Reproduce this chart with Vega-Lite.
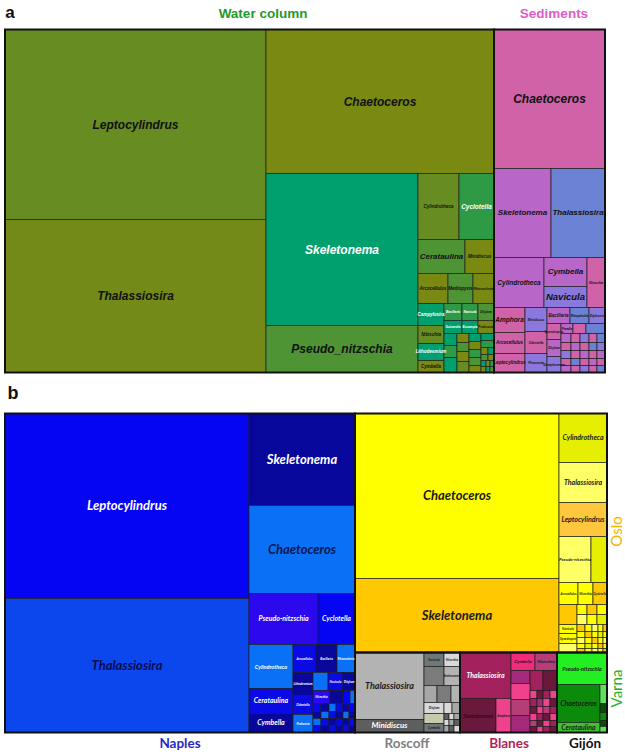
{
"$schema": "https://vega.github.io/schema/vega-lite/v6.json",
"background": "white",
"padding": {"left": 4, "top": 3.5, "right": 0, "bottom": 0},
"spacing": 41,
"bounds": "flush",
"config": {"view": {"stroke": null}},
"resolve": {"scale": {"x": "independent", "y": "independent", "fill": "independent", "color": "independent", "size": "independent"}},
"datasets": {
"cellsA": [
{"x0":0,"x1":261,"y0":0,"y1":190,"pal":"a_lep","name":"Leptocylindrus","lvl":2},
{"x0":0,"x1":261,"y0":190,"y1":343,"pal":"a_tha","name":"Thalassiosira","lvl":2},
{"x0":261,"x1":489,"y0":0,"y1":144,"pal":"a_cha","name":"Chaetoceros","lvl":2},
{"x0":261,"x1":413,"y0":144,"y1":296,"pal":"a_ske","name":"Skeletonema","lvl":2},
{"x0":261,"x1":413,"y0":296,"y1":343,"pal":"a_pse","name":"Pseudo_nitzschia","lvl":2},
{"x0":413,"x1":454,"y0":144,"y1":210,"pal":"a_lep","name":"Cylindrotheca","lvl":6},
{"x0":454,"x1":489,"y0":144,"y1":210,"pal":"a_cyc","name":"Cyclotella","lvl":5},
{"x0":413,"x1":460,"y0":210,"y1":244,"pal":"a_pse","name":"Cerataulina","lvl":4},
{"x0":460,"x1":489,"y0":210,"y1":244,"pal":"a_cha","name":"Minidiscus","lvl":6},
{"x0":413,"x1":443,"y0":244,"y1":274,"pal":"a_cha","name":"Arcocellulus","lvl":6},
{"x0":443,"x1":468,"y0":244,"y1":274,"pal":"a_pse","name":"Mediopyxis","lvl":6},
{"x0":468,"x1":489,"y0":244,"y1":274,"pal":"a_cha","name":"Rhizosolenia","lvl":7},
{"x0":413,"x1":439,"y0":274,"y1":296,"pal":"a_ske","name":"Campylosira","lvl":6},
{"x0":413,"x1":439,"y0":296,"y1":314,"pal":"a_lep","name":"Nitzschia","lvl":6},
{"x0":413,"x1":439,"y0":314,"y1":331,"pal":"a_ske","name":"Lithodesmium","lvl":6},
{"x0":413,"x1":439,"y0":331,"y1":343,"pal":"a_cha","name":"Cymbella","lvl":6},
{"x0":439,"x1":457,"y0":274,"y1":291,"pal":"a_cyc","name":"Bacillaria","lvl":7},
{"x0":457,"x1":473,"y0":274,"y1":291,"pal":"a_cyc","name":"Navicula","lvl":7},
{"x0":473,"x1":489,"y0":274,"y1":291,"pal":"a_pse","name":"Ditylum","lvl":7},
{"x0":439,"x1":457,"y0":291,"y1":304,"pal":"a_ske","name":"Guinardia","lvl":7},
{"x0":457,"x1":473,"y0":291,"y1":304,"pal":"a_ske","name":"Eucampia","lvl":7},
{"x0":473,"x1":489,"y0":291,"y1":304,"pal":"a_cha","name":"Proboscia","lvl":7},
{"x0":439,"x1":452,"y0":304,"y1":316,"pal":"a_ske","name":""},
{"x0":439,"x1":452,"y0":316,"y1":328,"pal":"a_cyc","name":""},
{"x0":439,"x1":452,"y0":328,"y1":343,"pal":"a_ske","name":""},
{"x0":452,"x1":464,"y0":304,"y1":313,"pal":"a_cha","name":""},
{"x0":452,"x1":464,"y0":313,"y1":322,"pal":"a_pse","name":""},
{"x0":452,"x1":464,"y0":322,"y1":332,"pal":"a_cha","name":""},
{"x0":452,"x1":464,"y0":332,"y1":343,"pal":"a_lep","name":""},
{"x0":464,"x1":476,"y0":304,"y1":312,"pal":"a_ske","name":""},
{"x0":464,"x1":476,"y0":312,"y1":320,"pal":"a_cha","name":""},
{"x0":464,"x1":476,"y0":320,"y1":328,"pal":"a_cyc","name":""},
{"x0":464,"x1":476,"y0":328,"y1":336,"pal":"a_pse","name":""},
{"x0":464,"x1":476,"y0":336,"y1":343,"pal":"a_cha","name":""},
{"x0":476,"x1":489,"y0":304,"y1":311,"pal":"a_ske","name":""},
{"x0":476,"x1":489,"y0":311,"y1":318,"pal":"a_cyc","name":""},
{"x0":476,"x1":483,"y0":318,"y1":325,"pal":"a_cha","name":""},
{"x0":483,"x1":489,"y0":318,"y1":325,"pal":"a_ske","name":""},
{"x0":476,"x1":483,"y0":325,"y1":331,"pal":"a_pse","name":""},
{"x0":483,"x1":489,"y0":325,"y1":331,"pal":"a_cha","name":""},
{"x0":476,"x1":481,"y0":331,"y1":337,"pal":"a_ske","name":""},
{"x0":481,"x1":485,"y0":331,"y1":337,"pal":"a_cha","name":""},
{"x0":485,"x1":489,"y0":331,"y1":337,"pal":"a_cyc","name":""},
{"x0":476,"x1":481,"y0":337,"y1":343,"pal":"a_cha","name":""},
{"x0":481,"x1":485,"y0":337,"y1":343,"pal":"a_ske","name":""},
{"x0":485,"x1":489,"y0":337,"y1":343,"pal":"a_pse","name":""},
{"x0":489,"x1":600,"y0":0,"y1":139,"pal":"s_cha","name":"Chaetoceros","lvl":2},
{"x0":489,"x1":546,"y0":139,"y1":228,"pal":"s_pur","name":"Skeletonema","lvl":4},
{"x0":546,"x1":600,"y0":139,"y1":228,"pal":"s_blu","name":"Thalassiosira","lvl":4},
{"x0":489,"x1":539,"y0":228,"y1":278,"pal":"s_pur","name":"Cylindrotheca","lvl":5},
{"x0":539,"x1":582,"y0":228,"y1":257,"pal":"s_pur","name":"Cymbella","lvl":4},
{"x0":539,"x1":582,"y0":257,"y1":278,"pal":"s_vio","name":"Navicula","lvl":3},
{"x0":582,"x1":600,"y0":228,"y1":278,"pal":"s_cha","name":"Nitzschia","lvl":7},
{"x0":489,"x1":520,"y0":278,"y1":303,"pal":"s_cha","name":"Amphora","lvl":5},
{"x0":489,"x1":520,"y0":303,"y1":324,"pal":"s_cha","name":"Arcocellulus","lvl":6},
{"x0":489,"x1":520,"y0":324,"y1":343,"pal":"s_cha","name":"Leptocylindrus","lvl":6},
{"x0":520,"x1":542,"y0":278,"y1":302,"pal":"s_vio","name":"Minidiscus","lvl":7},
{"x0":520,"x1":542,"y0":302,"y1":324,"pal":"s_cha","name":"Odontella","lvl":7},
{"x0":520,"x1":542,"y0":324,"y1":343,"pal":"s_vio","name":"Pleurosira","lvl":7},
{"x0":542,"x1":565,"y0":278,"y1":294,"pal":"s_pur","name":"Bacillaria","lvl":6},
{"x0":565,"x1":584,"y0":278,"y1":294,"pal":"s_blu","name":"Rhopalodia","lvl":7},
{"x0":584,"x1":600,"y0":278,"y1":294,"pal":"s_vio","name":"Diploneis","lvl":7},
{"x0":542,"x1":556,"y0":294,"y1":310,"pal":"s_cha","name":"Synedropsis","lvl":7},
{"x0":542,"x1":556,"y0":310,"y1":327,"pal":"s_pur","name":"Ditylum","lvl":7},
{"x0":542,"x1":556,"y0":327,"y1":343,"pal":"s_vio","name":"Gomphonema","lvl":7},
{"x0":556,"x1":568,"y0":294,"y1":304,"pal":"s_pur","name":"Paralia","lvl":7},
{"x0":568,"x1":581,"y0":294,"y1":304,"pal":"s_cha","name":""},
{"x0":581,"x1":600,"y0":294,"y1":304,"pal":"s_blu","name":""},
{"x0":556,"x1":566,"y0":304,"y1":313,"pal":"s_pur","name":""},
{"x0":566,"x1":575,"y0":304,"y1":313,"pal":"s_cha","name":""},
{"x0":575,"x1":584,"y0":304,"y1":313,"pal":"s_vio","name":""},
{"x0":584,"x1":592,"y0":304,"y1":313,"pal":"s_cha","name":""},
{"x0":592,"x1":600,"y0":304,"y1":313,"pal":"s_blu","name":""},
{"x0":556,"x1":566,"y0":313,"y1":321,"pal":"s_cha","name":""},
{"x0":566,"x1":575,"y0":313,"y1":321,"pal":"s_pur","name":""},
{"x0":575,"x1":584,"y0":313,"y1":321,"pal":"s_cha","name":""},
{"x0":584,"x1":592,"y0":313,"y1":321,"pal":"s_blu","name":""},
{"x0":592,"x1":600,"y0":313,"y1":321,"pal":"s_vio","name":""},
{"x0":556,"x1":566,"y0":321,"y1":329,"pal":"s_vio","name":""},
{"x0":566,"x1":575,"y0":321,"y1":329,"pal":"s_cha","name":""},
{"x0":575,"x1":584,"y0":321,"y1":329,"pal":"s_pur","name":""},
{"x0":584,"x1":592,"y0":321,"y1":329,"pal":"s_cha","name":""},
{"x0":592,"x1":600,"y0":321,"y1":329,"pal":"s_pur","name":""},
{"x0":556,"x1":566,"y0":329,"y1":336,"pal":"s_cha","name":""},
{"x0":566,"x1":575,"y0":329,"y1":336,"pal":"s_blu","name":""},
{"x0":575,"x1":584,"y0":329,"y1":336,"pal":"s_cha","name":""},
{"x0":584,"x1":592,"y0":329,"y1":336,"pal":"s_pur","name":""},
{"x0":592,"x1":600,"y0":329,"y1":336,"pal":"s_cha","name":""},
{"x0":556,"x1":566,"y0":336,"y1":343,"pal":"s_pur","name":""},
{"x0":566,"x1":575,"y0":336,"y1":343,"pal":"s_cha","name":""},
{"x0":575,"x1":584,"y0":336,"y1":343,"pal":"s_vio","name":""},
{"x0":584,"x1":592,"y0":336,"y1":343,"pal":"s_cha","name":""},
{"x0":592,"x1":600,"y0":336,"y1":343,"pal":"s_blu","name":""}
],
"groupsA": [
{"x0":0,"x1":489,"y0":0,"y1":343,"group":"Water column"},
{"x0":489,"x1":600,"y0":0,"y1":343,"group":"Sediments"}
],
"notesA": [
{"name":"Water column","x":258,"y":-16},
{"name":"Sediments","x":549,"y":-16}
],
"panelA": [{"name":"a","x":5,"y":-17}],
"cellsB": [
{"x0":0,"x1":244,"y0":0,"y1":185,"pal":"n_lep","name":"Leptocylindrus","lvl":1},
{"x0":0,"x1":244,"y0":185,"y1":319,"pal":"n_tha","name":"Thalassiosira","lvl":1},
{"x0":244,"x1":350,"y0":0,"y1":92,"pal":"n_ske","name":"Skeletonema","lvl":1},
{"x0":244,"x1":350,"y0":92,"y1":180,"pal":"n_cha","name":"Chaetoceros","lvl":1},
{"x0":244,"x1":313,"y0":180,"y1":231,"pal":"n_pse","name":"Pseudo-nitzschia","lvl":4},
{"x0":313,"x1":350,"y0":180,"y1":231,"pal":"n_lep","name":"Cyclotella","lvl":4},
{"x0":244,"x1":288,"y0":231,"y1":275,"pal":"n_chw","name":"Cylindrotheca","lvl":5},
{"x0":244,"x1":288,"y0":275,"y1":300,"pal":"n_cer","name":"Cerataulina","lvl":4},
{"x0":244,"x1":288,"y0":300,"y1":319,"pal":"n_ske","name":"Cymbella","lvl":4},
{"x0":288,"x1":311,"y0":231,"y1":259,"pal":"n_cer","name":"Arcocellulus","lvl":7},
{"x0":311,"x1":332,"y0":231,"y1":259,"pal":"n_ske","name":"Bacillaria","lvl":7},
{"x0":332,"x1":350,"y0":231,"y1":259,"pal":"n_chw","name":"Rhizosolenia","lvl":7},
{"x0":288,"x1":308,"y0":259,"y1":282,"pal":"n_ske","name":"Lithodesmium","lvl":7},
{"x0":308,"x1":323,"y0":259,"y1":277,"pal":"n_cha","name":""},
{"x0":323,"x1":338,"y0":259,"y1":277,"pal":"n_cer","name":"Navicula","lvl":7},
{"x0":338,"x1":350,"y0":259,"y1":277,"pal":"n_ske","name":"Ditylum","lvl":7},
{"x0":288,"x1":308,"y0":282,"y1":301,"pal":"n_cer","name":"Odontella","lvl":7},
{"x0":288,"x1":308,"y0":301,"y1":319,"pal":"n_chw","name":"Proboscia","lvl":7},
{"x0":308,"x1":325,"y0":277,"y1":290,"pal":"n_pse","name":"Nitzschia","lvl":7},
{"x0":325,"x1":338,"y0":277,"y1":290,"pal":"n_ske","name":""},
{"x0":338,"x1":345,"y0":277,"y1":290,"pal":"n_lep","name":""},
{"x0":345,"x1":350,"y0":277,"y1":290,"pal":"n_cha","name":""},
{"x0":308,"x1":316,"y0":290,"y1":298,"pal":"n_cer","name":""},
{"x0":316,"x1":324,"y0":290,"y1":298,"pal":"n_ske","name":""},
{"x0":324,"x1":331,"y0":290,"y1":298,"pal":"n_cha","name":""},
{"x0":331,"x1":338,"y0":290,"y1":298,"pal":"n_cer","name":""},
{"x0":338,"x1":344,"y0":290,"y1":298,"pal":"n_ske","name":""},
{"x0":344,"x1":350,"y0":290,"y1":298,"pal":"n_lep","name":""},
{"x0":308,"x1":316,"y0":298,"y1":305,"pal":"n_ske","name":""},
{"x0":316,"x1":324,"y0":298,"y1":305,"pal":"n_cha","name":""},
{"x0":324,"x1":331,"y0":298,"y1":305,"pal":"n_cer","name":""},
{"x0":331,"x1":338,"y0":298,"y1":305,"pal":"n_ske","name":""},
{"x0":338,"x1":344,"y0":298,"y1":305,"pal":"n_cha","name":""},
{"x0":344,"x1":350,"y0":298,"y1":305,"pal":"n_ske","name":""},
{"x0":308,"x1":316,"y0":305,"y1":312,"pal":"n_cha","name":""},
{"x0":316,"x1":324,"y0":305,"y1":312,"pal":"n_cer","name":""},
{"x0":324,"x1":331,"y0":305,"y1":312,"pal":"n_ske","name":""},
{"x0":331,"x1":338,"y0":305,"y1":312,"pal":"n_lep","name":""},
{"x0":338,"x1":344,"y0":305,"y1":312,"pal":"n_ske","name":""},
{"x0":344,"x1":350,"y0":305,"y1":312,"pal":"n_cer","name":""},
{"x0":308,"x1":316,"y0":312,"y1":319,"pal":"n_cer","name":""},
{"x0":316,"x1":324,"y0":312,"y1":319,"pal":"n_ske","name":""},
{"x0":324,"x1":331,"y0":312,"y1":319,"pal":"n_cer","name":""},
{"x0":331,"x1":338,"y0":312,"y1":319,"pal":"n_ske","name":""},
{"x0":338,"x1":344,"y0":312,"y1":319,"pal":"n_cer","name":""},
{"x0":344,"x1":350,"y0":312,"y1":319,"pal":"n_ske","name":""},
{"x0":350,"x1":554,"y0":0,"y1":165,"pal":"o_cha","name":"Chaetoceros","lvl":1},
{"x0":350,"x1":554,"y0":165,"y1":239,"pal":"o_ske","name":"Skeletonema","lvl":1},
{"x0":554,"x1":602,"y0":0,"y1":49,"pal":"o_cyl","name":"Cylindrotheca","lvl":4},
{"x0":554,"x1":602,"y0":49,"y1":89,"pal":"o_lt","name":"Thalassiosira","lvl":4},
{"x0":554,"x1":602,"y0":89,"y1":123,"pal":"o_lep","name":"Leptocylindrus","lvl":4},
{"x0":554,"x1":586,"y0":123,"y1":169,"pal":"o_lt","name":"Pseudo-nitzschia","lvl":6},
{"x0":586,"x1":602,"y0":123,"y1":169,"pal":"o_cyl","name":""},
{"x0":554,"x1":573,"y0":169,"y1":191,"pal":"o_cha","name":"Arcocellulus","lvl":7},
{"x0":573,"x1":588,"y0":169,"y1":191,"pal":"o_cha","name":"Nitzschia","lvl":7},
{"x0":588,"x1":602,"y0":169,"y1":191,"pal":"o_ske","name":"Cyclotella","lvl":7},
{"x0":554,"x1":572,"y0":191,"y1":211,"pal":"o_ske","name":""},
{"x0":572,"x1":582,"y0":191,"y1":201,"pal":"o_cha","name":""},
{"x0":572,"x1":582,"y0":201,"y1":211,"pal":"o_lt","name":""},
{"x0":582,"x1":592,"y0":191,"y1":201,"pal":"o_ske","name":""},
{"x0":582,"x1":592,"y0":201,"y1":211,"pal":"o_cha","name":""},
{"x0":592,"x1":602,"y0":191,"y1":201,"pal":"o_cha","name":""},
{"x0":592,"x1":602,"y0":201,"y1":211,"pal":"o_cyl","name":""},
{"x0":554,"x1":572,"y0":211,"y1":220,"pal":"o_cha","name":"Navicula","lvl":7},
{"x0":554,"x1":572,"y0":220,"y1":230,"pal":"o_cha","name":"Synedropsis","lvl":7},
{"x0":554,"x1":572,"y0":230,"y1":239,"pal":"o_lt","name":""},
{"x0":572,"x1":580,"y0":211,"y1":218,"pal":"o_ske","name":""},
{"x0":580,"x1":587,"y0":211,"y1":218,"pal":"o_cha","name":""},
{"x0":587,"x1":593,"y0":211,"y1":218,"pal":"o_lt","name":""},
{"x0":593,"x1":598,"y0":211,"y1":218,"pal":"o_cha","name":""},
{"x0":598,"x1":602,"y0":211,"y1":218,"pal":"o_ske","name":""},
{"x0":572,"x1":580,"y0":218,"y1":224,"pal":"o_cha","name":""},
{"x0":580,"x1":587,"y0":218,"y1":224,"pal":"o_ske","name":""},
{"x0":587,"x1":593,"y0":218,"y1":224,"pal":"o_cha","name":""},
{"x0":593,"x1":598,"y0":218,"y1":224,"pal":"o_cyl","name":""},
{"x0":598,"x1":602,"y0":218,"y1":224,"pal":"o_cha","name":""},
{"x0":572,"x1":580,"y0":224,"y1":230,"pal":"o_lt","name":""},
{"x0":580,"x1":587,"y0":224,"y1":230,"pal":"o_cha","name":""},
{"x0":587,"x1":593,"y0":224,"y1":230,"pal":"o_ske","name":""},
{"x0":593,"x1":598,"y0":224,"y1":230,"pal":"o_cha","name":""},
{"x0":598,"x1":602,"y0":224,"y1":230,"pal":"o_lt","name":""},
{"x0":572,"x1":580,"y0":230,"y1":235,"pal":"o_cha","name":""},
{"x0":580,"x1":587,"y0":230,"y1":235,"pal":"o_cyl","name":""},
{"x0":587,"x1":593,"y0":230,"y1":235,"pal":"o_cha","name":""},
{"x0":593,"x1":598,"y0":230,"y1":235,"pal":"o_ske","name":""},
{"x0":598,"x1":602,"y0":230,"y1":235,"pal":"o_cha","name":""},
{"x0":572,"x1":580,"y0":235,"y1":239,"pal":"o_ske","name":""},
{"x0":580,"x1":587,"y0":235,"y1":239,"pal":"o_cha","name":""},
{"x0":587,"x1":593,"y0":235,"y1":239,"pal":"o_lt","name":""},
{"x0":593,"x1":598,"y0":235,"y1":239,"pal":"o_cha","name":""},
{"x0":598,"x1":602,"y0":235,"y1":239,"pal":"o_ske","name":""},
{"x0":350,"x1":419,"y0":239,"y1":306,"pal":"r_lt","name":"Thalassiosira","lvl":2},
{"x0":350,"x1":419,"y0":306,"y1":319,"pal":"r_dk","name":"Minidiscus","lvl":3},
{"x0":419,"x1":439,"y0":239,"y1":253,"pal":"r_md","name":"Navicula","lvl":7},
{"x0":439,"x1":455,"y0":239,"y1":253,"pal":"r_xl","name":"Nitzschia","lvl":7},
{"x0":419,"x1":439,"y0":253,"y1":272,"pal":"r_m2","name":""},
{"x0":439,"x1":455,"y0":253,"y1":272,"pal":"r_lt","name":"Skeletonema","lvl":7},
{"x0":419,"x1":432,"y0":272,"y1":289,"pal":"r_lt2","name":""},
{"x0":432,"x1":446,"y0":272,"y1":289,"pal":"r_m2","name":""},
{"x0":446,"x1":455,"y0":272,"y1":289,"pal":"r_lt","name":""},
{"x0":419,"x1":439,"y0":289,"y1":300,"pal":"r_xl","name":"Ditylum","lvl":7},
{"x0":439,"x1":447,"y0":289,"y1":300,"pal":"r_xl","name":""},
{"x0":447,"x1":455,"y0":289,"y1":300,"pal":"r_lt2","name":""},
{"x0":419,"x1":439,"y0":300,"y1":310,"pal":"r_bg","name":""},
{"x0":419,"x1":439,"y0":310,"y1":319,"pal":"r_md","name":"Cymbella","lvl":7},
{"x0":439,"x1":444,"y0":300,"y1":306,"pal":"r_dk","name":""},
{"x0":444,"x1":449,"y0":300,"y1":306,"pal":"r_xl","name":""},
{"x0":449,"x1":455,"y0":300,"y1":306,"pal":"r_lt2","name":""},
{"x0":439,"x1":444,"y0":306,"y1":312,"pal":"r_xl","name":""},
{"x0":444,"x1":449,"y0":306,"y1":312,"pal":"r_lt2","name":""},
{"x0":449,"x1":455,"y0":306,"y1":312,"pal":"r_dk","name":""},
{"x0":439,"x1":444,"y0":312,"y1":319,"pal":"r_lt2","name":""},
{"x0":444,"x1":449,"y0":312,"y1":319,"pal":"r_dk","name":""},
{"x0":449,"x1":455,"y0":312,"y1":319,"pal":"r_xl","name":""},
{"x0":455,"x1":506,"y0":239,"y1":285,"pal":"b_tha","name":"Thalassiosira","lvl":4},
{"x0":455,"x1":491,"y0":285,"y1":319,"pal":"b_dk","name":"Skeletonema","lvl":5},
{"x0":491,"x1":506,"y0":285,"y1":319,"pal":"b_pk","name":"Amphora","lvl":7},
{"x0":506,"x1":530,"y0":239,"y1":257,"pal":"b_pk2","name":"Cymbella","lvl":6},
{"x0":530,"x1":552,"y0":239,"y1":257,"pal":"b_md","name":"Nitzschia","lvl":6},
{"x0":506,"x1":525,"y0":257,"y1":270,"pal":"b_pu","name":""},
{"x0":525,"x1":538,"y0":257,"y1":277,"pal":"b_tha","name":""},
{"x0":538,"x1":552,"y0":257,"y1":277,"pal":"b_dk","name":""},
{"x0":506,"x1":525,"y0":270,"y1":286,"pal":"b_pk","name":""},
{"x0":506,"x1":525,"y0":286,"y1":302,"pal":"b_md","name":""},
{"x0":506,"x1":525,"y0":302,"y1":319,"pal":"b_pu","name":""},
{"x0":525,"x1":532,"y0":277,"y1":285,"pal":"b_pk","name":""},
{"x0":532,"x1":538,"y0":277,"y1":285,"pal":"b_dk","name":""},
{"x0":538,"x1":545,"y0":277,"y1":285,"pal":"b_tha","name":""},
{"x0":545,"x1":552,"y0":277,"y1":285,"pal":"b_pk","name":""},
{"x0":525,"x1":532,"y0":285,"y1":293,"pal":"b_tha","name":""},
{"x0":532,"x1":538,"y0":285,"y1":293,"pal":"b_pu","name":""},
{"x0":538,"x1":545,"y0":285,"y1":293,"pal":"b_pk","name":""},
{"x0":545,"x1":552,"y0":285,"y1":293,"pal":"b_dk","name":""},
{"x0":525,"x1":532,"y0":293,"y1":300,"pal":"b_dk","name":""},
{"x0":532,"x1":538,"y0":293,"y1":300,"pal":"b_pk","name":""},
{"x0":538,"x1":545,"y0":293,"y1":300,"pal":"b_md","name":""},
{"x0":545,"x1":552,"y0":293,"y1":300,"pal":"b_tha","name":""},
{"x0":525,"x1":532,"y0":300,"y1":307,"pal":"b_pk","name":""},
{"x0":532,"x1":538,"y0":300,"y1":307,"pal":"b_tha","name":""},
{"x0":538,"x1":545,"y0":300,"y1":307,"pal":"b_dk","name":""},
{"x0":545,"x1":552,"y0":300,"y1":307,"pal":"b_pk","name":""},
{"x0":525,"x1":532,"y0":307,"y1":313,"pal":"b_md","name":""},
{"x0":532,"x1":538,"y0":307,"y1":313,"pal":"b_dk","name":""},
{"x0":538,"x1":545,"y0":307,"y1":313,"pal":"b_pk","name":""},
{"x0":545,"x1":552,"y0":307,"y1":313,"pal":"b_tha","name":""},
{"x0":525,"x1":532,"y0":313,"y1":319,"pal":"b_dk","name":""},
{"x0":532,"x1":538,"y0":313,"y1":319,"pal":"b_pk","name":""},
{"x0":538,"x1":545,"y0":313,"y1":319,"pal":"b_tha","name":""},
{"x0":545,"x1":552,"y0":313,"y1":319,"pal":"b_dk","name":""},
{"x0":552,"x1":602,"y0":239,"y1":271,"pal":"v_pse","name":"Pseudo-nitzschia","lvl":5},
{"x0":552,"x1":595,"y0":271,"y1":309,"pal":"v_cha","name":"Chaetoceros","lvl":4},
{"x0":552,"x1":595,"y0":309,"y1":319,"pal":"v_cer","name":"Cerataulina","lvl":4},
{"x0":595,"x1":602,"y0":271,"y1":290,"pal":"v_lt","name":""},
{"x0":595,"x1":602,"y0":290,"y1":299,"pal":"v_dk","name":""},
{"x0":595,"x1":602,"y0":299,"y1":307,"pal":"v_cha","name":""},
{"x0":595,"x1":602,"y0":307,"y1":313,"pal":"v_dk","name":""},
{"x0":595,"x1":602,"y0":313,"y1":319,"pal":"v_lt","name":""}
],
"groupsB": [
{"x0":0,"x1":350,"y0":0,"y1":319,"group":"Naples"},
{"x0":350,"x1":602,"y0":0,"y1":239,"group":"Oslo"},
{"x0":350,"x1":455,"y0":239,"y1":319,"group":"Roscoff"},
{"x0":455,"x1":552,"y0":239,"y1":319,"group":"Blanes"},
{"x0":552,"x1":602,"y0":239,"y1":319,"group":"Varna"}
],
"sitesB": [
{"name":"Naples","x":175,"y":330},
{"name":"Roscoff","x":402,"y":330},
{"name":"Blanes","x":504,"y":330},
{"name":"Gijón","x":580,"y":330}
],
"sidesB": [
{"name":"Oslo","x":612,"y":118},
{"name":"Varna","x":612,"y":275}
],
"panelB": [{"name":"b","x":8,"y":-20}]
},
"vconcat": [
{
"width": 600, "height": 343,
"resolve": {"scale": {"color": "independent", "size": "independent"}},
"layer": [
{"data": {"name": "cellsA"},
 "mark": {"type": "rect", "stroke": "#1c1c1c", "strokeWidth": 0.7},
 "encoding": {
  "x": {"field": "x0", "type": "quantitative", "scale": {"domain": [0, 600], "nice": false, "zero": false}, "axis": null},
  "x2": {"field": "x1"},
  "y": {"field": "y0", "type": "quantitative", "scale": {"domain": [0, 343], "nice": false, "zero": false, "reverse": true}, "axis": null},
  "y2": {"field": "y1"},
  "fill": {"field": "pal", "type": "nominal", "legend": null, "scale": {
    "domain": ["a_lep","a_tha","a_cha","a_ske","a_pse","a_cyc","s_cha","s_pur","s_blu","s_vio"],
    "range": ["#678c22","#738a18","#798912","#00a06e","#4f9434","#2e9a46","#d062a7","#b867c9","#6b82d4","#8a78dc"]}}
 }},
{"data": {"name": "groupsA"},
 "mark": {"type": "rect", "filled": false, "stroke": "#111111", "strokeWidth": 2},
 "encoding": {
  "x": {"field": "x0", "type": "quantitative"}, "x2": {"field": "x1"},
  "y": {"field": "y0", "type": "quantitative"}, "y2": {"field": "y1"}
 }},
{"data": {"name": "cellsA"},
 "transform": [{"filter": "datum.name != ''"},
   {"calculate": "(datum.x0 + datum.x1) / 2", "as": "cx"},
   {"calculate": "(datum.y0 + datum.y1) / 2", "as": "cy"}],
 "mark": {"type": "text", "font": "Liberation Sans", "fontStyle": "italic", "fontWeight": "bold", "align": "center", "baseline": "middle"},
 "encoding": {
  "x": {"field": "cx", "type": "quantitative"},
  "y": {"field": "cy", "type": "quantitative"},
  "text": {"field": "name"},
  "color": {"field": "pal", "type": "nominal", "legend": null, "scale": {
    "domain": ["a_lep","a_tha","a_cha","a_ske","a_pse","a_cyc","s_cha","s_pur","s_blu","s_vio"],
    "range": ["#111111","#111111","#111111","#ffffff","#111111","#ffffff","#111111","#111111","#111111","#111111"]}},
  "size": {"field": "lvl", "type": "ordinal", "legend": null, "scale": {"type": "ordinal", "domain": [1,2,3,4,5,6,7], "range": [14,12,9.5,8,6.5,4.5,3.2]}}
 }},
{"data": {"name": "notesA"},
 "mark": {"type": "text", "font": "Liberation Sans", "fontSize": 13.5, "fontWeight": "bold", "align": "center", "baseline": "middle"},
 "encoding": {
  "x": {"field": "x", "type": "quantitative"},
  "y": {"field": "y", "type": "quantitative"},
  "text": {"field": "name"},
  "color": {"field": "name", "type": "nominal", "legend": null, "scale": {"domain": ["Water column","Sediments"], "range": ["#1f9a2a","#e05ccb"]}}
 }},
{"data": {"name": "panelA"},
 "mark": {"type": "text", "font": "Liberation Sans", "fontSize": 17, "fontWeight": "bold", "align": "center", "baseline": "middle", "color": "#111111"},
 "encoding": {
  "x": {"field": "x", "type": "quantitative"},
  "y": {"field": "y", "type": "quantitative"},
  "text": {"field": "name"}
 }}
]
},
{
"width": 602, "height": 319,
"resolve": {"scale": {"color": "independent", "size": "independent"}},
"layer": [
{"data": {"name": "cellsB"},
 "mark": {"type": "rect", "stroke": "#1c1c1c", "strokeWidth": 0.7},
 "encoding": {
  "x": {"field": "x0", "type": "quantitative", "scale": {"domain": [0, 602], "nice": false, "zero": false}, "axis": null},
  "x2": {"field": "x1"},
  "y": {"field": "y0", "type": "quantitative", "scale": {"domain": [0, 319], "nice": false, "zero": false, "reverse": true}, "axis": null},
  "y2": {"field": "y1"},
  "fill": {"field": "pal", "type": "nominal", "legend": null, "scale": {
    "domain": ["n_lep","n_tha","n_ske","n_cha","n_chw","n_pse","n_cer","o_cha","o_ske","o_cyl","o_lt","o_lep","r_lt","r_dk","r_md","r_m2","r_xl","r_bg","r_lt2","b_tha","b_dk","b_pk","b_pk2","b_md","b_pu","v_pse","v_cha","v_cer","v_lt","v_dk"],
    "range": ["#0505f4","#0c47ee","#07079c","#0a70f6","#0a70f6","#2c08ee","#0a0ae4","#ffff00","#ffc800","#e6ef00","#ffff66","#ffc83c","#b3b3b3","#5e5e5e","#6f7878","#7b7b7b","#d9d9d9","#c9c9ae","#a7a7a7","#a2205b","#6a183c","#f0418d","#f02b7b","#b53d78","#a3297a","#22ee22","#0b8a0b","#40c030","#5ae35a","#0a4e0a"]}}
 }},
{"data": {"name": "groupsB"},
 "mark": {"type": "rect", "filled": false, "stroke": "#111111", "strokeWidth": 2},
 "encoding": {
  "x": {"field": "x0", "type": "quantitative"}, "x2": {"field": "x1"},
  "y": {"field": "y0", "type": "quantitative"}, "y2": {"field": "y1"}
 }},
{"data": {"name": "cellsB"},
 "transform": [{"filter": "datum.name != ''"},
   {"calculate": "(datum.x0 + datum.x1) / 2", "as": "cx"},
   {"calculate": "(datum.y0 + datum.y1) / 2", "as": "cy"}],
 "mark": {"type": "text", "font": "Lato", "fontStyle": "italic", "fontWeight": "bold", "align": "center", "baseline": "middle"},
 "encoding": {
  "x": {"field": "cx", "type": "quantitative"},
  "y": {"field": "cy", "type": "quantitative"},
  "text": {"field": "name"},
  "color": {"field": "pal", "type": "nominal", "legend": null, "scale": {
    "domain": ["n_lep","n_tha","n_ske","n_cha","n_chw","n_pse","n_cer","o_cha","o_ske","o_cyl","o_lt","o_lep","r_lt","r_dk","r_md","r_m2","r_xl","r_bg","r_lt2","b_tha","b_dk","b_pk","b_pk2","b_md","b_pu","v_pse","v_cha","v_cer","v_lt","v_dk"],
    "range": ["#ffffff","#0a0a50","#ffffff","#0a1850","#ffffff","#ffffff","#ffffff","#1a1a1a","#1a1a1a","#1a1a1a","#1a1a1a","#1a1a1a","#1a1a1a","#ffffff","#1a1a1a","#1a1a1a","#1a1a1a","#1a1a1a","#1a1a1a","#ffffff","#3a0018","#1a1a1a","#1a1a1a","#1a1a1a","#1a1a1a","#1a1a1a","#1a1a1a","#1a1a1a","#1a1a1a","#1a1a1a"]}},
  "size": {"field": "lvl", "type": "ordinal", "legend": null, "scale": {"type": "ordinal", "domain": [1,2,3,4,5,6,7], "range": [13,9,8,7,5.5,4.5,3.2]}}
 }},
{"data": {"name": "sitesB"},
 "mark": {"type": "text", "font": "Lato", "fontSize": 13.5, "fontWeight": "bold", "align": "center", "baseline": "middle"},
 "encoding": {
  "x": {"field": "x", "type": "quantitative"},
  "y": {"field": "y", "type": "quantitative"},
  "text": {"field": "name"},
  "color": {"field": "name", "type": "nominal", "legend": null, "scale": {"domain": ["Naples","Roscoff","Blanes","Gijón"], "range": ["#2828c6","#7f7f7f","#b0245c","#111111"]}}
 }},
{"data": {"name": "sidesB"},
 "mark": {"type": "text", "font": "Lato", "fontSize": 15, "angle": 270, "align": "center", "baseline": "middle"},
 "encoding": {
  "x": {"field": "x", "type": "quantitative"},
  "y": {"field": "y", "type": "quantitative"},
  "text": {"field": "name"},
  "color": {"field": "name", "type": "nominal", "legend": null, "scale": {"domain": ["Oslo","Varna"], "range": ["#f4b400","#25b025"]}}
 }},
{"data": {"name": "panelB"},
 "mark": {"type": "text", "font": "Liberation Sans", "fontSize": 18, "fontWeight": "bold", "align": "center", "baseline": "middle", "color": "#111111"},
 "encoding": {
  "x": {"field": "x", "type": "quantitative"},
  "y": {"field": "y", "type": "quantitative"},
  "text": {"field": "name"}
 }}
]
}
]
}
